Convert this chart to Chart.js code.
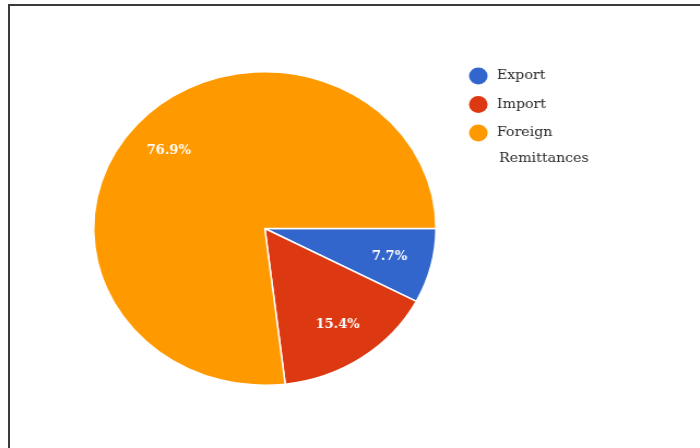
<!DOCTYPE html>
<html>
<head>
<meta charset="utf-8">
<title>Income sources</title>
<script src="https://cdn.jsdelivr.net/npm/chart.js@4/dist/chart.umd.min.js"></script>
<style>
  html, body { margin: 0; padding: 0; background: #fff; }
  body { width: 700px; height: 448px; position: relative; overflow: hidden; }
  /* the chart is drawn a bit narrower and stretched sideways */
  #stage { position: absolute; left: 0; top: 0; width: 641px; height: 448px;
           transform: scaleX(1.092); transform-origin: 0 0; }
  #frame { position: absolute; left: 8px; top: 4px; right: -4px; bottom: -4px;
           border-top: 2px solid #3a3a3a; border-left: 2px solid #3a3a3a; pointer-events: none; }
</style>
</head>
<body>
<div id="stage"><canvas id="pie" width="641" height="448"></canvas></div>
<div id="frame"></div>
<script>
const sliceNames = ["Export", "Import", "Foreign Remittances"];
const shareValues = [7.7, 15.4, 76.9];
const sliceColors = ["#3366CC", "#DC3912", "#FF9900"];

const FONT = '"DejaVu Serif", "Liberation Serif", serif';

// percentage text inside each slice
const sliceLabelPlugin = {
  id: "sliceLabels",
  afterDatasetsDraw(chart) {
    const ctx = chart.ctx;
    const meta = chart.getDatasetMeta(0);
    ctx.save();
    ctx.font = "bold 12px " + FONT;
    ctx.fillStyle = "#ffffff";
    ctx.textAlign = "center";
    ctx.textBaseline = "middle";
    meta.data.forEach((arc, i) => {
      const mid = (arc.startAngle + arc.endAngle) / 2;
      const r = arc.outerRadius * 0.75;
      ctx.fillText(shareValues[i].toFixed(1) + "%", arc.x + Math.cos(mid) * r, arc.y + Math.sin(mid) * r);
    });
    ctx.restore();
  }
};

// legend on the right, long names wrap onto a second line
const sideLegendPlugin = {
  id: "sideLegend",
  afterDraw(chart) {
    const ctx = chart.ctx;
    const dotX = 438, textX = 455, maxW = 100;
    let y = 76;
    ctx.save();
    ctx.font = "13px " + FONT;
    ctx.textBaseline = "middle";
    chart.data.labels.forEach((name, i) => {
      ctx.fillStyle = chart.data.datasets[0].backgroundColor[i];
      ctx.beginPath();
      ctx.arc(dotX, y, 8.5, 0, Math.PI * 2);
      ctx.fill();
      // word wrap
      const lines = [];
      let cur = "";
      name.split(" ").forEach(w => {
        const test = cur ? cur + " " + w : w;
        if (cur && ctx.measureText(test).width > maxW) { lines.push(cur); cur = w; }
        else cur = test;
      });
      lines.push(cur);
      ctx.fillStyle = "#2a2a2a";
      lines.forEach((ln, j) => ctx.fillText(ln, j ? textX + 2 : textX, y + j * 26));
      y += 28.5 + (lines.length - 1) * 26;
    });
    ctx.restore();
  }
};

new Chart(document.getElementById("pie"), {
  type: "pie",
  data: {
    labels: sliceNames,
    datasets: [{
      data: shareValues,
      backgroundColor: sliceColors,
      borderColor: "#ffffff",
      borderWidth: 1.5
    }]
  },
  options: {
    responsive: false,
    animation: false,
    events: [],
    rotation: 90,
    layout: { padding: { top: 71, bottom: 62, left: 85, right: 241 } },
    plugins: {
      legend: { display: false },
      tooltip: { enabled: false }
    }
  },
  plugins: [sliceLabelPlugin, sideLegendPlugin]
});
</script>
</body>
</html>
